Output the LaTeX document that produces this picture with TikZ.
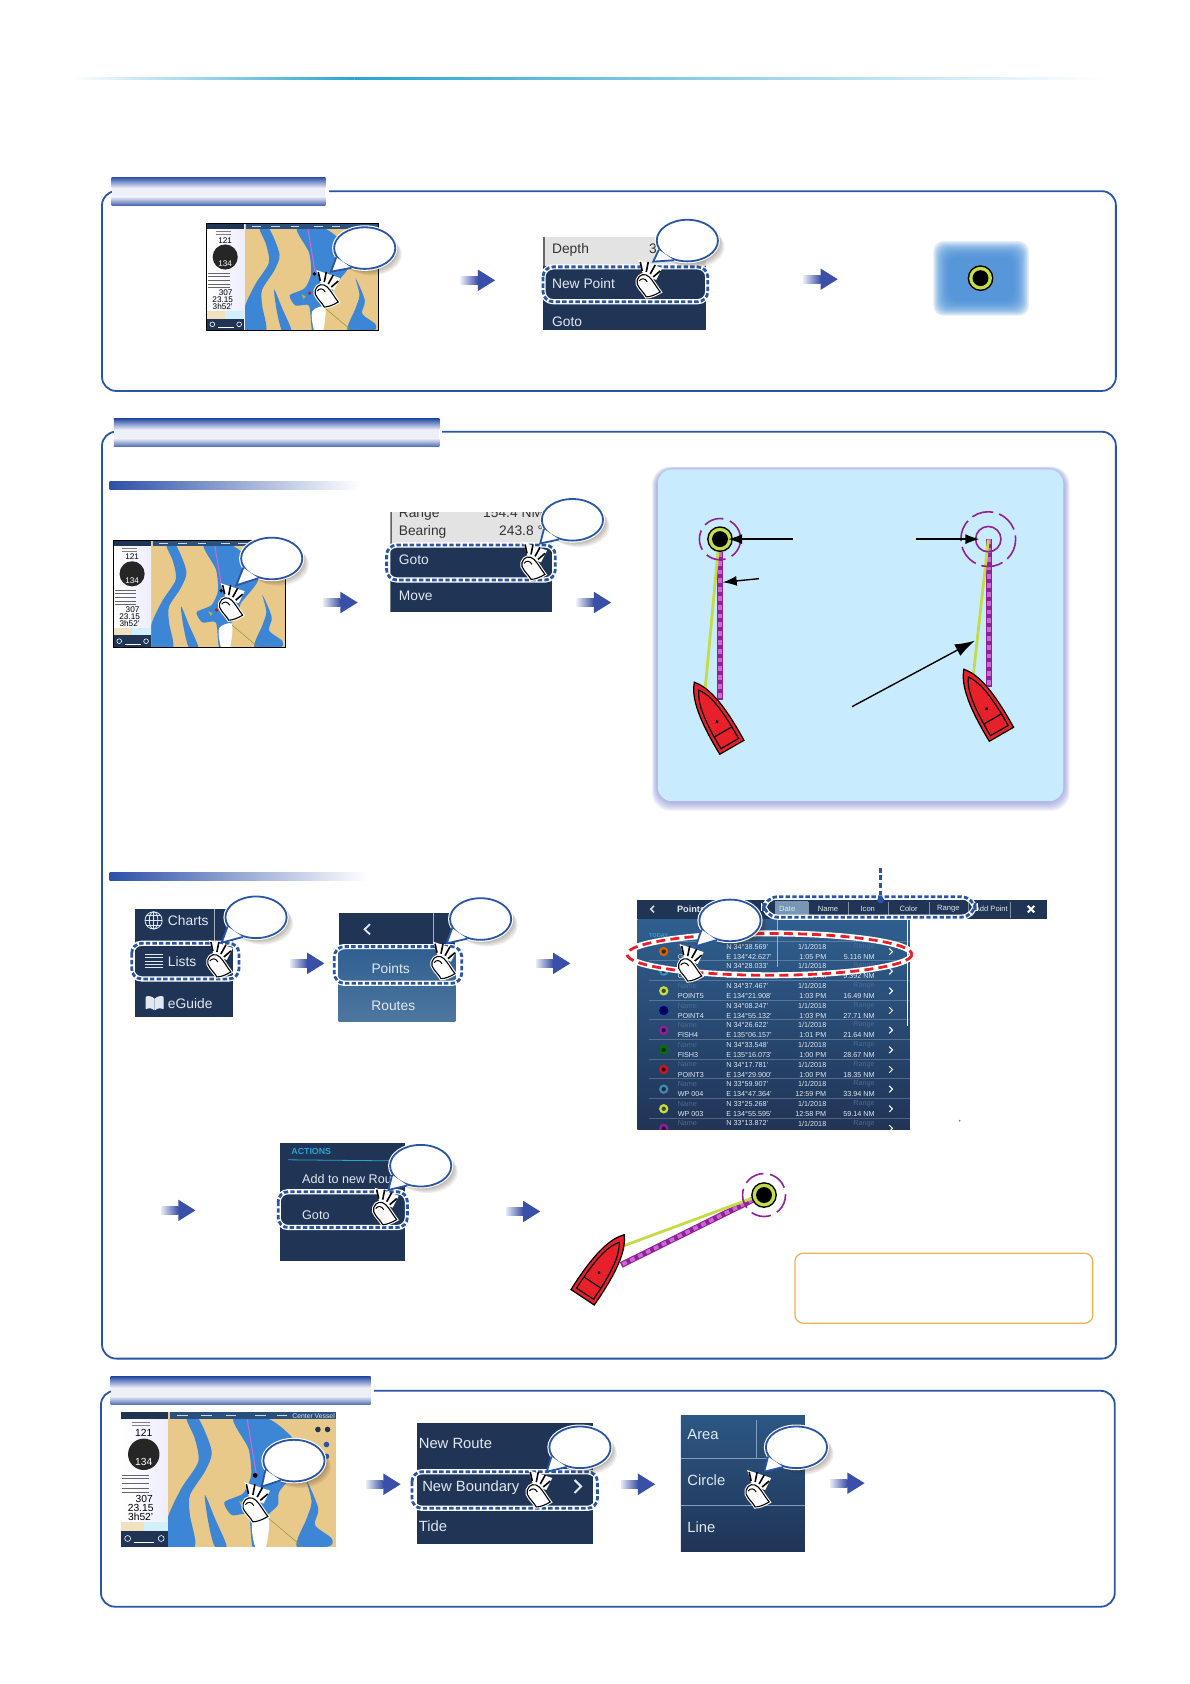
\documentclass[tikz,border=0pt]{standalone}
\usepackage{fontspec}
\setmainfont{Liberation Sans}
\usetikzlibrary{arrows.meta,shapes.geometric}
\definecolor{frameb}{RGB}{42,85,165}
\definecolor{tabb}{RGB}{44,80,168}
\definecolor{tabw}{RGB}{238,240,248}
\definecolor{arrb}{RGB}{58,80,168}
\definecolor{navy}{RGB}{32,52,86}
\definecolor{navyl}{RGB}{47,95,143}
\definecolor{menut}{RGB}{225,232,240}
\definecolor{greyrow}{RGB}{227,227,227}
\definecolor{sand}{RGB}{232,201,138}
\definecolor{water}{RGB}{61,134,214}
\definecolor{iconb}{RGB}{74,144,217}
\definecolor{pale}{RGB}{200,236,253}
\definecolor{glow}{RGB}{130,135,215}
\definecolor{lime}{RGB}{196,220,70}
\definecolor{purp}{RGB}{145,32,155}
\definecolor{lilac}{RGB}{200,106,208}
\definecolor{boatr}{RGB}{232,32,42}
\definecolor{shad}{RGB}{70,48,32}
\definecolor{orangeb}{RGB}{240,176,80}
\definecolor{topl}{RGB}{40,165,210}
\definecolor{dimt}{RGB}{78,106,138}
\tikzset{
  bub/.style={shape=ellipse,minimum width=30.6pt,minimum height=20.8pt,inner sep=0pt,draw=frameb,
    line width=.9pt,fill=white,preaction={draw=white,line width=2pt}},
  hl/.style={rounded corners=5pt,preaction={draw=white,line width=2.6pt},draw=frameb,line width=1.4pt,
    dash pattern=on 2.2pt off 1.1pt},
  mtxt/.style={anchor=west,text=menut,inner sep=0pt,text height=4.9pt,text depth=0pt,font=\fontsize{6.9}{8}\selectfont},
  ktxt/.style={anchor=west,text=black!80,inner sep=0pt,text height=4.9pt,text depth=0pt,font=\fontsize{6.9}{8}\selectfont},
  tsm/.style={inner sep=0pt,text=menut,font=\fontsize{3.6}{4}\selectfont},
  maptxt/.style={inner sep=0pt,transform shape,font=\fontsize{4.1}{5}\selectfont},
  routeln/.style={purp,line width=3pt},
  routedh/.style={lilac,line width=1.9pt,dash pattern=on 2.4pt off 2pt},
  trackln/.style={lime,line width=1.4pt},
  ringd/.style={purp,line width=.8pt,dash pattern=on 10pt off 3.4pt},
  lead/.style={-{Latex[length=7pt,width=5pt]},line width=.7pt},
  stepar/.pic={
    \shade[left color=arrb!12,right color=arrb] (0,-3.8) rectangle (16,3.8);
    \fill[arrb] (16,-10) -- (32,0) -- (16,10) -- cycle;
  },
  taphand/.pic={
    \fill[white] (-7,-15) -- (17,-7) -- (11,5) -- (-2,0) -- cycle;
    \foreach \a/\b/\c/\e in {-3/-4/-5/-13, 1/-3/3/-13, 5/-1/10/-10, 8/2/15/-4}
      {\draw[line width=.8pt] (\a,\b) -- (\c,\e);}
    \draw[fill=white,line width=.55pt,preaction={draw=white,line width=1.6pt}]
      (1,22) .. controls (-3,15) and (-10,11) .. (-8,5) .. controls (-6,-1) and (0,-2) .. (4,2)
      .. controls (8,6) and (11,12) .. (15,17) .. controls (10,20) and (5,22) .. (1,22) -- cycle;
    \draw[line width=.5pt] (-6,6) .. controls (-4,3) and (0,3) .. (2,7);
  },
  wpt/.pic={
    \fill[black] (0,0) circle (12);
    \fill[lime] (0,0) circle (10.6);
    \fill[black] (0,0) circle (7.4);
  },
  boat/.pic={
    \draw[fill=boatr,line width=.6pt] (0,-42.5) .. controls (8,-33) and (14,-16) .. (13,27.5)
      -- (-13,27.5) .. controls (-14,-16) and (-8,-33) .. (0,-42.5) -- cycle;
    \draw[line width=.6pt] (0,-34) .. controls (6,-26) and (10,-12) .. (9.5,23.5) -- (-9.5,23.5)
      .. controls (-10,-12) and (-6,-26) .. (0,-34) -- cycle;
    \draw[line width=.6pt] (-9.5,11) -- (9.5,11);
    \fill[black] (0,0) circle (1.6);
  },
  chartmap/.pic={
    \fill[sand] (0,0) rectangle (160,100);
    \begin{scope}
      \clip (0,0) rectangle (160,100);
      \fill[water] plot[smooth cycle,tension=.45] coordinates {(49,5) (58,5) (67.6,29) (62.6,44) (51.4,61.7) (51.4,76.6)
        (55,100) (34.8,100) (34.8,79) (45,56.7) (57.6,36.8) (55,19.4)};
      \fill[water] plot[smooth cycle,tension=.4] coordinates {(83.7,5) (110,5) (128,19.4) (134,38) (118,59) (117,69) (108,79)
        (107,100) (98,100) (95,76.6) (82.5,76.6) (77,67) (91,60.4) (97,46.8) (95,27)};
      \fill[water] plot[smooth cycle,tension=.5] coordinates {(138.4,51) (147,71.6) (144.6,84) (157,94) (154.5,100) (131,100)
        (138.4,79) (142,66.7)};
      \fill[water] plot[smooth cycle,tension=.5] coordinates {(62.6,61.7) (70,79) (78.7,100) (70,100) (65,81.4)};
      \fill[white] plot[smooth cycle,tension=.5] coordinates {(98,82) (110,78) (108,100) (100,100)};
    \end{scope}
    \draw[lime!70!black,line width=.25pt] (110,79) -- (135,100);
    \draw[lilac,line width=.5pt] (94,5) -- (101,47);
    \fill[black] (100,47) circle (1.8);
    \fill[lime!85!black] (88,66) -- (92,68) -- (90,70.5) -- cycle;
    \fill[boatr!80!black] (95.6,65) circle (1.7);
    \shade[left color=white,right color=blue!7] (0,0) rectangle (34.8,100);
    \fill[sand!55] (0,82) rectangle (17,88.6);
    \fill[cyan!18] (17,82) rectangle (34.8,88.6);
    \fill[navy] (0,88.6) rectangle (34.8,100);
    \fill[navy] (0,0) rectangle (34.8,5);
    \fill[navyl!65!navy] (36.5,0) rectangle (160,5);
    \fill[black!85] (17,31.3) circle (11.7);
    \node[maptxt,text=white] (-c) at (17,37.3) {134};
    \node[maptxt] (-a) at (17,15.7) {121};
    \node[maptxt] (-e) at (17.4,64.7) {307};
    \node[maptxt] (-f) at (14.7,71) {23.15};
    \node[maptxt] (-g) at (14.7,77.6) {3h52'};
    \foreach \y in {47,49.5,53,57,59.7}
      {\draw[black!60,line width=.45pt] (1,\y) -- (21,\y);}
    \draw[black!50,line width=.35pt] (8,7.5) -- (22,7.5) (8,10) -- (22,10);
    \foreach \x in {42,60,78,100,116}
      {\draw[white!80!navy,line width=.5pt] (\x,2.6) -- (\x+8,2.6);}
    \draw[white,line width=.3pt] (10,97) -- (25,97);
    \draw[white,line width=.3pt] (5,94) circle (2.2) (30,94) circle (2.2);
  },
}
\newcommand{\tapbub}[5]{
  \foreach \k in {1,...,6}
    {\fill[shad,opacity=.08] ({#2+\k},{#3+\k}) ellipse (28.5 and 19.4);}
  \coordinate (#1t) at (#4,#5);
  \node[bub] (#1) at (#2,#3) {};
  \fill[white] (#1.198) -- (#1t) -- (#1.236) -- cycle;
  \draw[frameb,line width=.9pt] (#1.198) -- (#1t) -- (#1.236);
}
\begin{document}
\begin{tikzpicture}[x=.537pt,y=-.537pt]
  \useasboundingbox (0,0) rectangle (1108,1568);
  \fill[white] (0,0) rectangle (1108,1568);
  \shade[left color=white,right color=topl] (65,72) rectangle (330,74.4);
  \shade[left color=topl,right color=white] (330,72) rectangle (1030,74.4);
  \foreach \xa/\ya/\xb/\yb in {95/178/1039/364, 95/402/1039/1265, 94/1295/1038/1496}
    {\draw[frameb,line width=.9pt,rounded corners=7pt] (\xa,\ya) rectangle (\xb,\yb);}
  \foreach \xa/\ya/\xb/\yb in {104/165/303/191, 106/390/409/416, 103/1282/345/1308}
    {\fill[white] (\xa,\ya) rectangle (\xb+3,\yb);
     \shade[top color=tabb,bottom color=tabw] (\xa,\ya) rectangle (\xb,\ya+10);
     \fill[tabw] (\xa,\ya+10) rectangle (\xb,\yb-8);
     \shade[top color=tabw,bottom color=tabb!85] (\xa,\yb-8) rectangle (\xb,\yb);}
  \shade[left color=tabb,right color=white] (102,448) rectangle (335,456);
  \shade[left color=tabb,right color=white] (102,812) rectangle (342,820);
  \foreach \x/\y in {429/261, 748/260, 301/561, 537/561, 270/897, 499/897, 150/1127, 471/1128, 341/1382, 578/1382, 773/1381}
    {\pic at (\x,\y) {stepar};}

  \pic at (192.7,208) {chartmap};
  \draw[black,line width=.5pt] (192.7,208) rectangle (352.7,308);
  \tapbub{ba}{339.6}{231}{308.2}{253}
  \pic[scale=.93] at (301,265.4) {taphand};

  \fill[greyrow] (505.6,221) rectangle (657.2,248);
  \fill[black!60] (505.6,221) rectangle (507.4,248);
  \fill[navy] (505.6,248) rectangle (657.2,307.3);
  \node[ktxt] (depth) at (513.7,231.2) {Depth};
  \node[ktxt] (dval) at (604,231.2) {3};
  \node[mtxt] (newpt) at (513.7,264.4) {New Point};
  \node[mtxt] (goa) at (513.7,299.5) {Goto};
  \draw[hl] (505.6,248.5) rectangle (659,280.9);
  \tapbub{bb}{640}{224}{608.2}{243.6}
  \pic[scale=.93] at (600.8,256) {taphand};

  \foreach \k in {0,...,13}
    {\fill[iconb,opacity=.16,rounded corners=5pt] (869+\k*1.1,224.6+\k*1.1) rectangle (958-\k*1.1,294-\k*1.1);}
  \pic at (913,259) {wpt};

  \pic at (106,503) {chartmap};
  \draw[black,line width=.5pt] (106,503) rectangle (266,603);
  \tapbub{bc}{253}{520}{220}{545}
  \pic[scale=.93] at (212,557) {taphand};

  \begin{scope}
    \clip (363.5,477) rectangle (514,570);
    \fill[greyrow] (363.5,470) rectangle (514,507);
    \fill[black!60] (363.5,470) rectangle (365.3,507);
    \fill[navy] (363.5,507) rectangle (514,570);
    \node[ktxt] (rng) at (371,477.5) {Range};
    \node[ktxt,anchor=east] (rngv) at (506,477.5) {154.4 NM};
  \end{scope}
  \node[ktxt] (brg) at (371,494) {Bearing};
  \node[ktxt,anchor=east] (brgv) at (506,494) {243.8 °};
  \node[mtxt] (gob) at (371,521.5) {Goto};
  \node[mtxt] (mov) at (371,555) {Move};
  \draw[hl] (360,507.5) rectangle (517,540);
  \tapbub{bd}{533}{484}{503}{506}
  \pic[scale=.93] at (493.5,519) {taphand};

  \foreach \k in {0,...,9}
    {\fill[glow,opacity=.09,rounded corners=9pt] (607+\k*.55,434.5+\k*.25) rectangle (996-\k*.6,755-\k*.9);}
  \fill[pale,rounded corners=7pt] (612.5,437) rectangle (990,746);

  \draw[routeln] (670.4,514) -- (670.4,651.8);
  \draw[routedh] (670.4,514) -- (670.4,651.8);
  \draw[trackln] (668.5,514) -- (656.7,640.6);
  \draw[ringd] (670.4,502) circle (19.2);
  \pic at (670.4,502) {wpt};
  \pic[rotate=30] at (667.7,672) {boat};
  \draw[routeln] (920.9,502) -- (920.9,639.4);
  \draw[routedh] (920.9,502) -- (920.9,639.4);
  \draw[trackln] (920.2,503) -- (906.3,628.5);
  \draw[purp,line width=.8pt] (920.2,502) circle (11.8);
  \draw[purp,line width=.8pt,dash pattern=on 11pt off 3pt] (920.2,502) circle (25.5);
  \pic[rotate=30] at (918.7,659.9) {boat};
  \coordinate (ptlb) at (738.6,502);
  \coordinate (ptl) at (678,502);
  \coordinate (rtlb) at (706.7,538.8);
  \coordinate (rtl) at (672.9,542.2);
  \coordinate (ptrb) at (852.9,502);
  \coordinate (ptr) at (911.9,502);
  \coordinate (trkb) at (793.3,658);
  \coordinate (trk) at (907.8,596.5);
  \draw[lead] (ptlb) -- (ptl);
  \draw[lead] (rtlb) -- (rtl);
  \draw[lead] (ptrb) -- (ptr);
  \draw[-{Latex[length=10pt,width=6.5pt]},line width=.7pt] (trkb) -- (trk);

  \fill[navy] (125.4,846.4) rectangle (217.2,947.2);
  \draw[white!60!navy,line width=.4pt] (200,846.4) -- (200,878);
  \node[mtxt] (chrt) at (156,857) {Charts};
  \node[mtxt] (lst) at (156,895.6) {Lists};
  \node[mtxt] (egd) at (156,934) {eGuide};
  \draw[menut,line width=.4pt] (143,857) circle (8);
  \draw[menut,line width=.4pt] (143,857) ellipse (4 and 8);
  \draw[menut,line width=.4pt] (135,857) -- (151,857) (136.4,852.5) -- (149.6,852.5) (136.4,861.5) -- (149.6,861.5) (143,849) -- (143,865);
  \foreach \y in {889,892,895,898,901}
    {\draw[menut,line width=.5pt] (135,\y) -- (152,\y);}
  \draw[menut,fill=menut,line width=.4pt] (143.5,930) .. controls (141,927.5) and (137,927.5) .. (136,928.5) -- (136,939) .. controls (138,938) and (141,938) .. (143.5,940) -- cycle;
  \draw[menut,fill=menut,line width=.4pt] (144.5,930) .. controls (147,927.5) and (151,927.5) .. (152,928.5) -- (152,939) .. controls (150,938) and (147,938) .. (144.5,940) -- cycle;
  \draw[hl] (122.6,878.3) rectangle (222.5,911.5);
  \tapbub{be}{238.4}{854.1}{206.4}{877.7}
  \pic[scale=.93] at (201,889.2) {taphand};

  \fill[navy] (315.3,849.8) rectangle (424,881.4);
  \shade[top color=navyl,bottom color=navyl!85!white] (315.3,881.4) rectangle (424,951.3);
  \draw[menut,line width=.9pt] (344.5,860.5) -- (339.5,865.3) -- (344.5,870);
  \draw[white!60!navy,line width=.4pt] (404,849.8) -- (404,881);
  \node[tsm,font=\fontsize{6.9}{8}\selectfont] (pnts) at (363.8,901.6) {Points};
  \node[tsm,font=\fontsize{6.9}{8}\selectfont] (rtes) at (366.2,936.4) {Routes};
  \draw[hl] (311.3,881.4) rectangle (429.9,915.6);
  \tapbub{bf}{447.5}{855.7}{415.9}{878.4}
  \pic[scale=.93] at (409.7,890.8) {taphand};

  \shade[top color=navyl,bottom color=navy] (593.4,856) rectangle (847.3,1052);
  \fill[navy] (593.4,838) rectangle (974.6,856);
  \fill[white!35!navyl] (722,839) rectangle (752,856);
  \foreach \x in {753,790,827,865,902,941}
    {\draw[white!45!navy,line width=.3pt] (\x,840) -- (\x,855);}
  \draw[menut,line width=.7pt] (609,843.5) -- (606,846.5) -- (609,849.5);
  \node[tsm,anchor=west,font=\fontsize{4.6}{5}\selectfont\bfseries] (ptit) at (630,846.5) {Points};
  \foreach \x/\t in {733/Date, 771/Name, 808/Icon, 846/Color, 883/Range, 923/Add Point}
    {\node[tsm,font=\fontsize{3.8}{4}\selectfont] (hd\x) at (\x,846.5) {\t};}
  \draw[white,line width=1pt] (957,843.5) -- (963,849.5) (963,843.5) -- (957,849.5);
  \node[tsm,anchor=west,text=topl,font=\fontsize{2.8}{3}\selectfont\bfseries] (tdy) at (604,871) {TODAY};
  \begin{scope}
    \clip (593.4,856) rectangle (847.3,1052);
    \foreach \r/\nm/\la/\lo/\tm/\rg/\ic in {
      0/GOTO/34°38.569'/134°42.627'/1:05 PM/5.116 NM/orange!80!black,
      1/GOTO/34°28.033'/13/1:05 PM/9.392 NM/cyan!70!black,
      2/POINT5/34°37.467'/134°21.908'/1:03 PM/16.49 NM/lime,
      3/POINT4/34°08.247'/134°55.132'/1:03 PM/27.71 NM/blue!50!black,
      4/FISH4/34°26.622'/135°06.157'/1:01 PM/21.64 NM/purp,
      5/FISH3/34°33.548'/135°16.073'/1:00 PM/28.67 NM/green!45!black,
      6/POINT3/34°17.781'/134°29.900'/1:00 PM/18.35 NM/boatr!85!black,
      7/WP 004/33°59.907'/134°47.364'/12:59 PM/33.94 NM/cyan!65!black,
      8/WP 003/33°25.268'/134°55.595'/12:58 PM/59.14 NM/lime,
      9/ /33°13.872'/ / / /purp}
    {
      \pgfmathsetmacro\ya{881.4+18.3*\r}
      \pgfmathsetmacro\yb{890.7+18.3*\r}
      \pgfmathsetmacro\yc{886+18.3*\r}
      \draw[white,opacity=.22,line width=.25pt] (604,\ya-5.3) -- (847,\ya-5.3);
      \fill[\ic] (618,\yc) circle (4.4);
      \fill[black,opacity=.65] (618,\yc) circle (2);
      \node[tsm,anchor=west,text=dimt] (nm\r) at (630.7,\ya) {Name};
      \node[tsm,anchor=west] (nv\r) at (630.7,\yb) {\nm};
      \node[tsm,anchor=west] (la\r) at (676,\ya) {N \la};
      \node[tsm,anchor=west] (lo\r) at (676,\yb) {E \lo};
      \node[tsm,anchor=east] (dt\r) at (769.7,\ya) {1/1/2018};
      \node[tsm,anchor=east] (tm\r) at (769.7,\yb) {\tm};
      \node[tsm,anchor=east,text=dimt] (rg\r) at (814.7,\ya) {Range};
      \node[tsm,anchor=east] (rv\r) at (814.7,\yb) {\rg};
      \draw[white,line width=.5pt] (828,\yc-3) -- (831,\yc) -- (828,\yc+3);
    }
  \end{scope}
  \draw[white,line width=.5pt] (845,856) -- (845,955);
  \draw[white!50!navyl,line width=.25pt] (724,856) -- (724,900);
  \fill[gray] (893.5,1043.5) circle (.9);
  \draw[hl,rounded corners=7pt] (711,835) rectangle (908,854);
  \coordinate (sortt) at (820,808);
  \node[circle,fill=frameb,inner sep=0pt,minimum size=3.4pt] (sortd) at (820,838) {};
  \draw[frameb,line width=1.4pt,dash pattern=on 2.4pt off 1.4pt] (sortt) -- (sortd);
  \draw[white,line width=3pt] (716.5,888.6) ellipse (132.6 and 19.5);
  \draw[boatr,line width=1.4pt,dash pattern=on 4.5pt off 2.6pt] (716.5,888.6) ellipse (132.6 and 19.5);
  \tapbub{bg}{679.7}{857}{648}{881}
  \pic[scale=.93] at (639.4,893) {taphand};

  \fill[navy] (260.7,1064.5) rectangle (377.4,1173.8);
  \node[tsm,anchor=west,text=topl,font=\fontsize{4.4}{5}\selectfont\bfseries] (actn) at (271,1072.6) {ACTIONS};
  \draw[topl,line width=.4pt] (268,1079.9) -- (377,1081);
  \node[mtxt,font=\fontsize{6.3}{8}\selectfont] (addr) at (281,1097.8) {Add to new Route};
  \node[mtxt,font=\fontsize{6.3}{8}\selectfont] (goc) at (281,1130.6) {Goto};
  \draw[hl] (259,1109.6) rectangle (379.3,1143);
  \tapbub{bh}{391.7}{1085.4}{361.6}{1108}
  \pic[scale=.93] at (355.4,1119.8) {taphand};

  \draw[routeln] (701,1117) -- (578.4,1177.8);
  \draw[routedh] (701,1117) -- (578.4,1177.8);
  \draw[trackln] (700,1115.8) -- (580.7,1160);
  \draw[ringd] (711.4,1112.7) circle (20);
  \pic at (711.4,1112.7) {wpt};
  \pic[rotate=-33.6] at (557.7,1185) {boat};
  \draw[orangeb,line width=.6pt,rounded corners=4pt] (740.2,1167) rectangle (1017.5,1232);

  \pic[scale=1.25] at (112.6,1315) {chartmap};
  \node[maptxt,text=menut,font=\fontsize{3.4}{4}\selectfont] (ctrv) at (292,1318.2) {Center Vessel};
  \fill[navy] (296,1331) circle (2.6) (305,1331) circle (2.6);
  \fill[frameb] (304,1345) circle (2.6) (304,1356) circle (2.6);
  \tapbub{bi}{273.7}{1360}{243.7}{1384.2}
  \pic at (234.4,1395) {taphand};

  \fill[navy] (388.3,1325.3) rectangle (552.6,1437.7);
  \node[mtxt,font=\fontsize{7.4}{8}\selectfont] (nrt) at (389.6,1343.9) {New Route};
  \node[mtxt,font=\fontsize{7.4}{8}\selectfont] (nbd) at (392.8,1384.2) {New Boundary};
  \node[mtxt,font=\fontsize{7.4}{8}\selectfont] (tde) at (389.6,1421.5) {Tide};
  \draw[menut,line width=1pt] (535,1378) -- (541,1384) -- (535,1390);
  \draw[hl] (383.6,1370.3) rectangle (556.3,1404.4);
  \tapbub{bj}{540}{1347.6}{509.1}{1370.3}
  \pic[scale=.93] at (498.4,1382.7) {taphand};

  \shade[top color=navyl!80!navy,bottom color=navy] (634,1318.4) rectangle (749.5,1444.8);
  \draw[white!40!navyl,line width=.3pt] (634,1357.9) -- (749.5,1357.9) (634,1401.3) -- (749.5,1401.3) (704.6,1322) -- (704.6,1357.9);
  \node[mtxt,font=\fontsize{7.4}{8}\selectfont] (ara) at (639.7,1336) {Area};
  \node[mtxt,font=\fontsize{7.4}{8}\selectfont] (crc) at (639.7,1379) {Circle};
  \node[mtxt,font=\fontsize{7.4}{8}\selectfont] (lne) at (639.7,1422.4) {Line};
  \tapbub{bk}{741.6}{1347.6}{711.6}{1370.3}
  \pic[scale=.93] at (702.2,1382.7) {taphand};
\end{tikzpicture}
\end{document}
